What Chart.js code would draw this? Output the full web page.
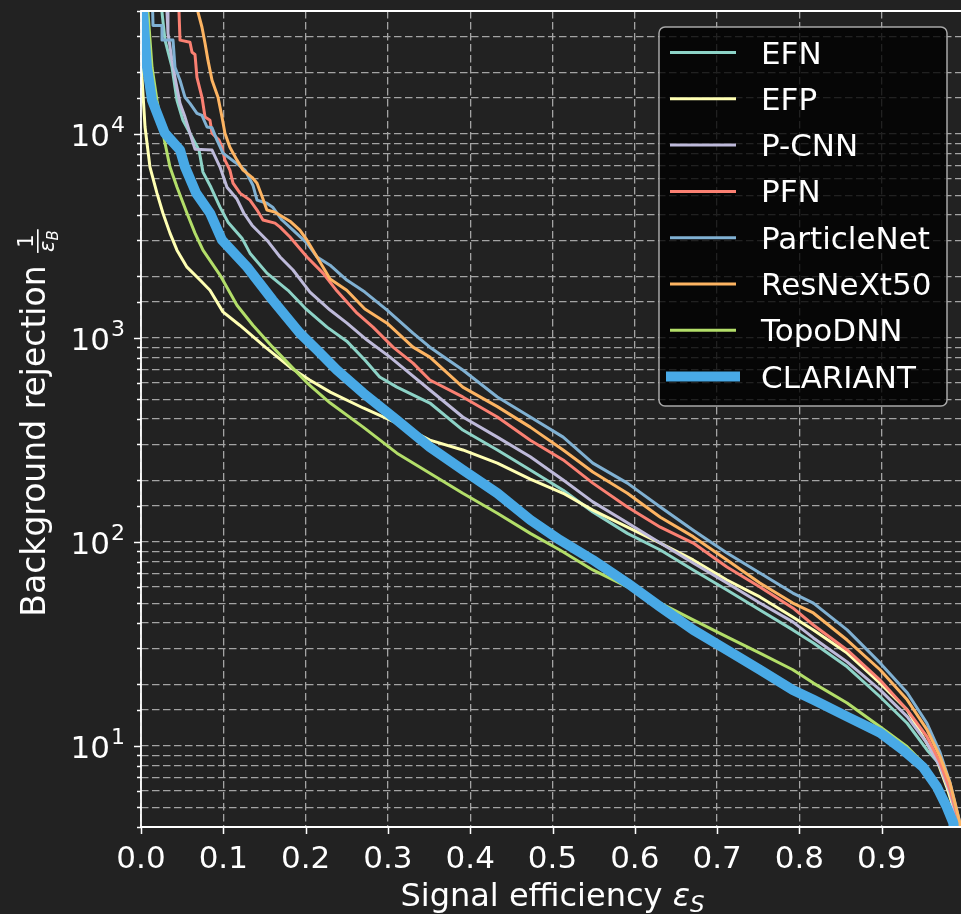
<!DOCTYPE html>
<html>
<head>
<meta charset="utf-8">
<title>ROC curves</title>
<script src="https://cdn.jsdelivr.net/npm/chart.js@4.4.1/dist/chart.umd.min.js"></script>
<style>
  html, body { margin: 0; padding: 0; background: #222222; overflow: hidden; }
  canvas { display: block; }
</style>
</head>
<body>
<canvas id="roc" width="964" height="914"></canvas>
<script>
// [signal efficiency, background rejection] pairs for each tagger
const efn = [[0.024, 60000], [0.0255, 39400], [0.0292, 28800], [0.0377, 21200], [0.0437, 14600], [0.051, 11650],
  [0.0595, 10070], [0.0705, 8320], [0.0753, 6490], [0.085, 5470], [0.096, 4370], [0.1057, 3690], [0.1227, 3080],
  [0.1324, 2600], [0.153, 2075], [0.1786, 1710], [0.1993, 1400], [0.226, 1128], [0.25, 963], [0.272, 778],
  [0.29, 643], [0.311, 573], [0.351, 479], [0.391, 353], [0.433, 282], [0.473, 225], [0.513, 179], [0.549, 140],
  [0.591, 110], [0.631, 91.2], [0.671, 72.8], [0.712, 58.1], [0.752, 46.3], [0.792, 37.0], [0.817, 31.9],
  [0.858, 24.4], [0.898, 17.4], [0.931, 12.9], [0.955, 9.55], [0.971, 8.07], [0.983, 5.96], [0.991, 4.19], [1.0, 1.0]];

const efp = [[0.0005, 45000], [0.0012, 18900], [0.0049, 10800], [0.0109, 6870], [0.0194, 5120], [0.0267, 4080],
  [0.0352, 3260], [0.0437, 2690], [0.0559, 2220], [0.0717, 1920], [0.0838, 1710], [0.0996, 1340], [0.12, 1153],
  [0.151, 900], [0.181, 718], [0.205, 621], [0.23, 542], [0.27, 453], [0.311, 382], [0.351, 315], [0.391, 282],
  [0.433, 243], [0.473, 203], [0.513, 173], [0.549, 143], [0.591, 118], [0.631, 98.6], [0.671, 81.5], [0.712, 65.0],
  [0.752, 53.7], [0.792, 42.8], [0.817, 37.0], [0.858, 28.5], [0.898, 20.3], [0.931, 15.0], [0.95, 11.1],
  [0.967, 8.53], [0.979, 6.29], [0.989, 4.69], [0.995, 4.0], [1.0, 1.0]];

const pcnn = [[0.03, 60000], [0.0316, 39400], [0.0328, 31100], [0.0377, 22900], [0.0413, 18900], [0.0474, 14100],
  [0.0535, 12080], [0.0595, 10070], [0.0656, 8410], [0.0863, 8320], [0.096, 6870], [0.1045, 5470], [0.1166, 4790],
  [0.125, 4080], [0.1349, 3565], [0.153, 3010], [0.169, 2490], [0.1847, 2150], [0.2053, 1676], [0.2297, 1368],
  [0.2503, 1180], [0.2746, 975], [0.3026, 804], [0.3232, 687], [0.351, 555], [0.391, 409], [0.433, 326],
  [0.473, 261], [0.513, 201], [0.549, 157], [0.591, 124], [0.631, 98.6], [0.671, 78.7], [0.712, 62.8], [0.752, 50.1],
  [0.792, 40.5], [0.817, 33.8], [0.858, 25.8], [0.898, 18.8], [0.931, 13.9], [0.955, 10.3], [0.971, 7.88],
  [0.983, 5.89], [0.993, 4.19], [1.0, 1.0]];

const pfn = [[0.045, 60000], [0.0462, 39400], [0.0474, 28800], [0.0595, 28100], [0.062, 25100], [0.0656, 24500],
  [0.068, 18900], [0.0741, 15100], [0.0778, 12080], [0.0838, 11650], [0.0863, 10070], [0.0948, 9310], [0.0984, 8600],
  [0.102, 7430], [0.108, 6640], [0.1118, 5730], [0.1203, 5120], [0.1324, 4730], [0.141, 4230], [0.1482, 3780],
  [0.1628, 3650], [0.169, 3490], [0.181, 3120], [0.2017, 2490], [0.2211, 2075], [0.2382, 1695], [0.2625, 1321],
  [0.2819, 1128], [0.3062, 900], [0.3305, 752], [0.351, 621], [0.391, 513], [0.433, 409], [0.473, 315], [0.513, 252],
  [0.549, 194], [0.591, 148], [0.631, 118], [0.671, 98.6], [0.712, 75.3], [0.752, 60.1], [0.792, 47.4], [0.817, 39.1],
  [0.858, 29.5], [0.898, 21.0], [0.931, 15.0], [0.955, 11.1], [0.971, 8.25], [0.983, 6.08], [0.994, 4.19], [1.0, 1.0]];

const particleNet = [[0.013, 60000], [0.0146, 34000], [0.0255, 34000], [0.0255, 28800], [0.0389, 28800],
  [0.0413, 21200], [0.0474, 18300], [0.0535, 15100], [0.0595, 14100], [0.068, 12600], [0.0741, 12300], [0.0802, 10800],
  [0.0863, 10700], [0.0923, 9310], [0.0996, 8040], [0.1142, 7260], [0.1264, 6640], [0.136, 5600], [0.141, 4730],
  [0.153, 4570], [0.16, 4370], [0.1713, 3780], [0.1847, 3370], [0.2017, 2910], [0.2139, 2490], [0.2297, 2270],
  [0.25, 1920], [0.272, 1676], [0.299, 1368], [0.3305, 1055], [0.351, 900], [0.391, 695], [0.433, 513], [0.473, 409],
  [0.513, 326], [0.549, 243], [0.591, 194], [0.631, 148], [0.671, 114], [0.712, 88.1], [0.752, 70.3], [0.792, 56.1],
  [0.817, 50.1], [0.858, 37.0], [0.898, 25.5], [0.931, 18.2], [0.955, 12.9], [0.971, 9.25], [0.983, 6.59],
  [0.995, 4.19], [1.0, 1.0]];

const resNeXt50 = [[0.069, 60000], [0.0693, 39400], [0.0741, 33300], [0.0778, 27800], [0.0814, 22900],
  [0.0863, 18300], [0.0936, 15100], [0.0984, 12080], [0.102, 10070], [0.108, 8600], [0.1166, 7430], [0.124, 6640],
  [0.1349, 6120], [0.141, 5730], [0.147, 4940], [0.153, 4230], [0.1628, 4130], [0.169, 3990], [0.181, 3730],
  [0.193, 3370], [0.2017, 3010], [0.2139, 2490], [0.2297, 1940], [0.25, 1710], [0.272, 1384], [0.299, 1180],
  [0.3305, 900], [0.351, 804], [0.391, 573], [0.433, 460], [0.473, 365], [0.513, 282], [0.549, 220], [0.591, 173],
  [0.631, 132], [0.671, 106], [0.712, 81.5], [0.752, 62.8], [0.792, 50.1], [0.817, 44.8], [0.858, 33.0],
  [0.898, 23.6], [0.931, 16.8], [0.955, 12.0], [0.971, 8.83], [0.983, 6.59], [0.995, 4.19], [1.0, 1.0]];

const topoDNN = [[0.006, 60000], [0.0085, 39400], [0.0134, 21200], [0.0194, 14600], [0.0267, 10070],
  [0.0352, 6870], [0.0438, 5470], [0.0559, 4080], [0.0656, 3260], [0.0753, 2690], [0.096, 2030], [0.1166, 1445],
  [0.136, 1153], [0.16, 900], [0.181, 735], [0.202, 600], [0.23, 479], [0.27, 365], [0.311, 272], [0.351, 217],
  [0.391, 173], [0.433, 138], [0.473, 110], [0.509, 91.2], [0.549, 72.8], [0.591, 60.1], [0.631, 50.1], [0.671, 41.4],
  [0.712, 34.2], [0.752, 28.5], [0.792, 23.6], [0.817, 20.3], [0.858, 16.2], [0.898, 12.4], [0.931, 9.9],
  [0.95, 8.25], [0.971, 6.29], [0.983, 5.02], [0.991, 4.19], [1.0, 1.0]];

const clariant = [[0.001, 60000], [0.0024, 39900], [0.0073, 21200], [0.0134, 14600], [0.029, 10070],
  [0.0475, 8320], [0.0535, 6870], [0.067, 5120], [0.0840, 4080], [0.0985, 3010], [0.129, 2220], [0.16, 1530],
  [0.193, 1055], [0.214, 871], [0.238, 695], [0.27, 536], [0.311, 395], [0.351, 291], [0.391, 225], [0.433, 173],
  [0.473, 128], [0.509, 102], [0.549, 81.5], [0.591, 62.8], [0.631, 48.0], [0.671, 37.0], [0.712, 29.5],
  [0.752, 23.6], [0.792, 18.8], [0.817, 16.8], [0.858, 13.9], [0.898, 11.6], [0.926, 9.55], [0.95, 7.88],
  [0.967, 6.29], [0.979, 5.02], [0.987, 4.19], [1.0, 1.0]];

const seriesNames = ['EFN', 'EFP', 'P-CNN', 'PFN', 'ParticleNet', 'ResNeXt50', 'TopoDNN', 'CLARIANT'];
const seriesData = [efn, efp, pcnn, pfn, particleNet, resNeXt50, topoDNN, clariant];
const seriesColors = ['#8dd3c7', '#ffffb3', '#bebada', '#fb8072', '#80b1d3', '#fdb462', '#b3de69', '#48a9e6'];
const seriesWidths = [3, 3, 3, 3, 3, 3, 3, 10];

const xTickValues = [0, 0.1, 0.2, 0.3, 0.4, 0.5, 0.6, 0.7, 0.8, 0.9];
const xTickLabels = ['0.0', '0.1', '0.2', '0.3', '0.4', '0.5', '0.6', '0.7', '0.8', '0.9'];
const yTickExponents = [1, 2, 3, 4];

const FONT = '"DejaVu Sans", sans-serif';
const GRID = '#a4a4a4';
const DASH = [7.5, 3.5];

// spines, ticks, axis labels and the legend are painted by hand on top of the chart
const decor = {
  id: 'decor',
  afterDatasetsDraw(chart) {
    const { ctx, chartArea: a, scales: { x, y } } = chart;
    ctx.save();
    ctx.strokeStyle = '#ffffff';
    ctx.fillStyle = '#ffffff';

    // spines
    ctx.lineWidth = 1.8;
    ctx.beginPath();
    ctx.moveTo(a.left, a.bottom); ctx.lineTo(a.left, a.top); ctx.lineTo(a.right, a.top);
    ctx.moveTo(a.left, a.bottom); ctx.lineTo(a.right, a.bottom);
    ctx.stroke();

    // y ticks: long marks on decades, short on the minor ones
    ctx.lineWidth = 1.5;
    ctx.beginPath();
    y.ticks.forEach(t => {
      const lg = Math.log10(t.value);
      const len = Math.abs(lg - Math.round(lg)) < 1e-6 ? 7 : 4;
      const py = Math.round(y.getPixelForValue(t.value)) + 0.5;
      ctx.moveTo(a.left - len, py); ctx.lineTo(a.left, py);
    });
    // x ticks
    xTickValues.forEach(v => {
      const px = Math.round(x.getPixelForValue(v)) + 0.5;
      ctx.moveTo(px, a.bottom); ctx.lineTo(px, a.bottom + 7);
    });
    ctx.stroke();

    // y tick labels 10^k
    ctx.textBaseline = 'alphabetic';
    ctx.textAlign = 'right';
    yTickExponents.forEach(k => {
      const py = y.getPixelForValue(Math.pow(10, k));
      ctx.font = `22px ${FONT}`;
      const sup = String(k);
      const ws = ctx.measureText(sup).width;
      ctx.fillText(sup, 125, py - 1.5);
      ctx.font = `31px ${FONT}`;
      ctx.fillText('10', 125 - ws - 1, py + 12.5);
    });

    // x tick labels
    ctx.textAlign = 'center';
    ctx.font = `31px ${FONT}`;
    xTickValues.forEach((v, i) => {
      ctx.fillText(xTickLabels[i], x.getPixelForValue(v), 868);
    });

    // x title: Signal efficiency eps_S
    ctx.textAlign = 'left';
    const xt = 'Signal efficiency ';
    ctx.font = `32px ${FONT}`;
    const w1 = ctx.measureText(xt).width;
    ctx.font = `italic 32px ${FONT}`;
    const wE = ctx.measureText('ε').width;
    ctx.font = `italic 23px ${FONT}`;
    const wS = ctx.measureText('S').width;
    const x0 = (a.left + a.right) / 2 - (w1 + wE + wS) / 2;
    ctx.font = `32px ${FONT}`;
    ctx.fillText(xt, x0, 906);
    ctx.font = `italic 32px ${FONT}`;
    ctx.fillText('ε', x0 + w1, 906);
    ctx.font = `italic 23px ${FONT}`;
    ctx.fillText('S', x0 + w1 + wE, 912);

    // y title: Background rejection 1/eps_B
    drawYTitle(ctx, 45, (a.top + a.bottom) / 2 + 4);

    drawLegend(ctx, chart);
    ctx.restore();
  }
};

function drawYTitle(ctx, cx, cy) {
  ctx.save();
  ctx.translate(cx, cy);
  ctx.rotate(-Math.PI / 2);
  ctx.textAlign = 'left';
  ctx.textBaseline = 'alphabetic';
  const text = 'Background rejection ';
  ctx.font = `33px ${FONT}`;
  const w = ctx.measureText(text).width;
  ctx.font = `italic 21px ${FONT}`;
  const wEps = ctx.measureText('ε').width;
  ctx.font = `italic 15px ${FONT}`;
  const wB = ctx.measureText('B').width;
  const fracW = wEps + wB + 2;
  const gap = 2;
  const x0 = -(w + gap + fracW) / 2;
  ctx.font = `33px ${FONT}`;
  ctx.fillText(text, x0, 0);
  const fx = x0 + w + gap;
  ctx.fillRect(fx, -8, fracW, 1.6);
  ctx.textAlign = 'center';
  ctx.font = `21px ${FONT}`;
  ctx.fillText('1', fx + fracW / 2, -12);
  ctx.textAlign = 'left';
  ctx.font = `italic 21px ${FONT}`;
  ctx.fillText('ε', fx + 1, 9);
  ctx.font = `italic 15px ${FONT}`;
  ctx.fillText('B', fx + 1 + wEps, 13);
  ctx.restore();
}

function roundedRect(ctx, x, y, w, h, r) {
  ctx.beginPath();
  ctx.moveTo(x + r, y);
  ctx.lineTo(x + w - r, y);
  ctx.arcTo(x + w, y, x + w, y + r, r);
  ctx.lineTo(x + w, y + h - r);
  ctx.arcTo(x + w, y + h, x + w - r, y + h, r);
  ctx.lineTo(x + r, y + h);
  ctx.arcTo(x, y + h, x, y + h - r, r);
  ctx.lineTo(x, y + r);
  ctx.arcTo(x, y, x + r, y, r);
  ctx.closePath();
}

function drawLegend(ctx, chart) {
  ctx.save();
  roundedRect(ctx, 659, 27, 288, 379, 6);
  ctx.fillStyle = 'rgba(0, 0, 0, 0.8)';
  ctx.fill();
  ctx.lineWidth = 1.5;
  ctx.strokeStyle = '#a8a8a8';
  ctx.stroke();

  ctx.font = `31px ${FONT}`;
  ctx.textAlign = 'left';
  ctx.textBaseline = 'alphabetic';
  chart.data.datasets.forEach((ds, i) => {
    const rowY = 52.5 + i * 46.3;
    const half = ds.borderWidth / 2;
    ctx.strokeStyle = ds.borderColor;
    ctx.lineWidth = ds.borderWidth;
    ctx.lineCap = 'square';
    ctx.beginPath();
    if (ds.borderWidth > 5) {
      ctx.moveTo(671, rowY);
      ctx.lineTo(735, rowY);
    } else {
      ctx.moveTo(670 + half, rowY);
      ctx.lineTo(736 - half, rowY);
    }
    ctx.stroke();
    ctx.fillStyle = '#ffffff';
    ctx.fillText(ds.label, 761, rowY + 11);
  });
  ctx.restore();
}

const datasets = seriesNames.map((name, i) => ({
  label: name,
  data: seriesData[i].map(([e, r]) => ({ x: e, y: r })),
  borderColor: seriesColors[i],
  backgroundColor: seriesColors[i],
  borderWidth: seriesWidths[i],
  borderJoinStyle: 'round',
  pointRadius: 0,
  tension: 0,
  fill: false,
  clip: 0,
  order: seriesNames.length - i
}));

new Chart(document.getElementById('roc'), {
  type: 'line',
  data: { datasets },
  options: {
    responsive: false,
    animation: false,
    layout: { padding: { left: 0, right: 0, top: 11, bottom: 0 } },
    plugins: { legend: { display: false }, tooltip: { enabled: false } },
    scales: {
      x: {
        type: 'linear',
        min: 0,
        max: 1,
        ticks: { display: false, stepSize: 0.1 },
        grid: { color: GRID, lineWidth: 1.3, drawTicks: false },
        border: { display: false, dash: DASH },
        afterFit: s => { s.height = 87; }
      },
      y: {
        type: 'logarithmic',
        min: 4,
        max: 40000,
        ticks: { display: false, autoSkip: false },
        grid: { color: GRID, lineWidth: 1.3, drawTicks: false },
        border: { display: false, dash: DASH },
        afterFit: s => { s.width = 141; }
      }
    }
  },
  plugins: [decor]
});
</script>
</body>
</html>
